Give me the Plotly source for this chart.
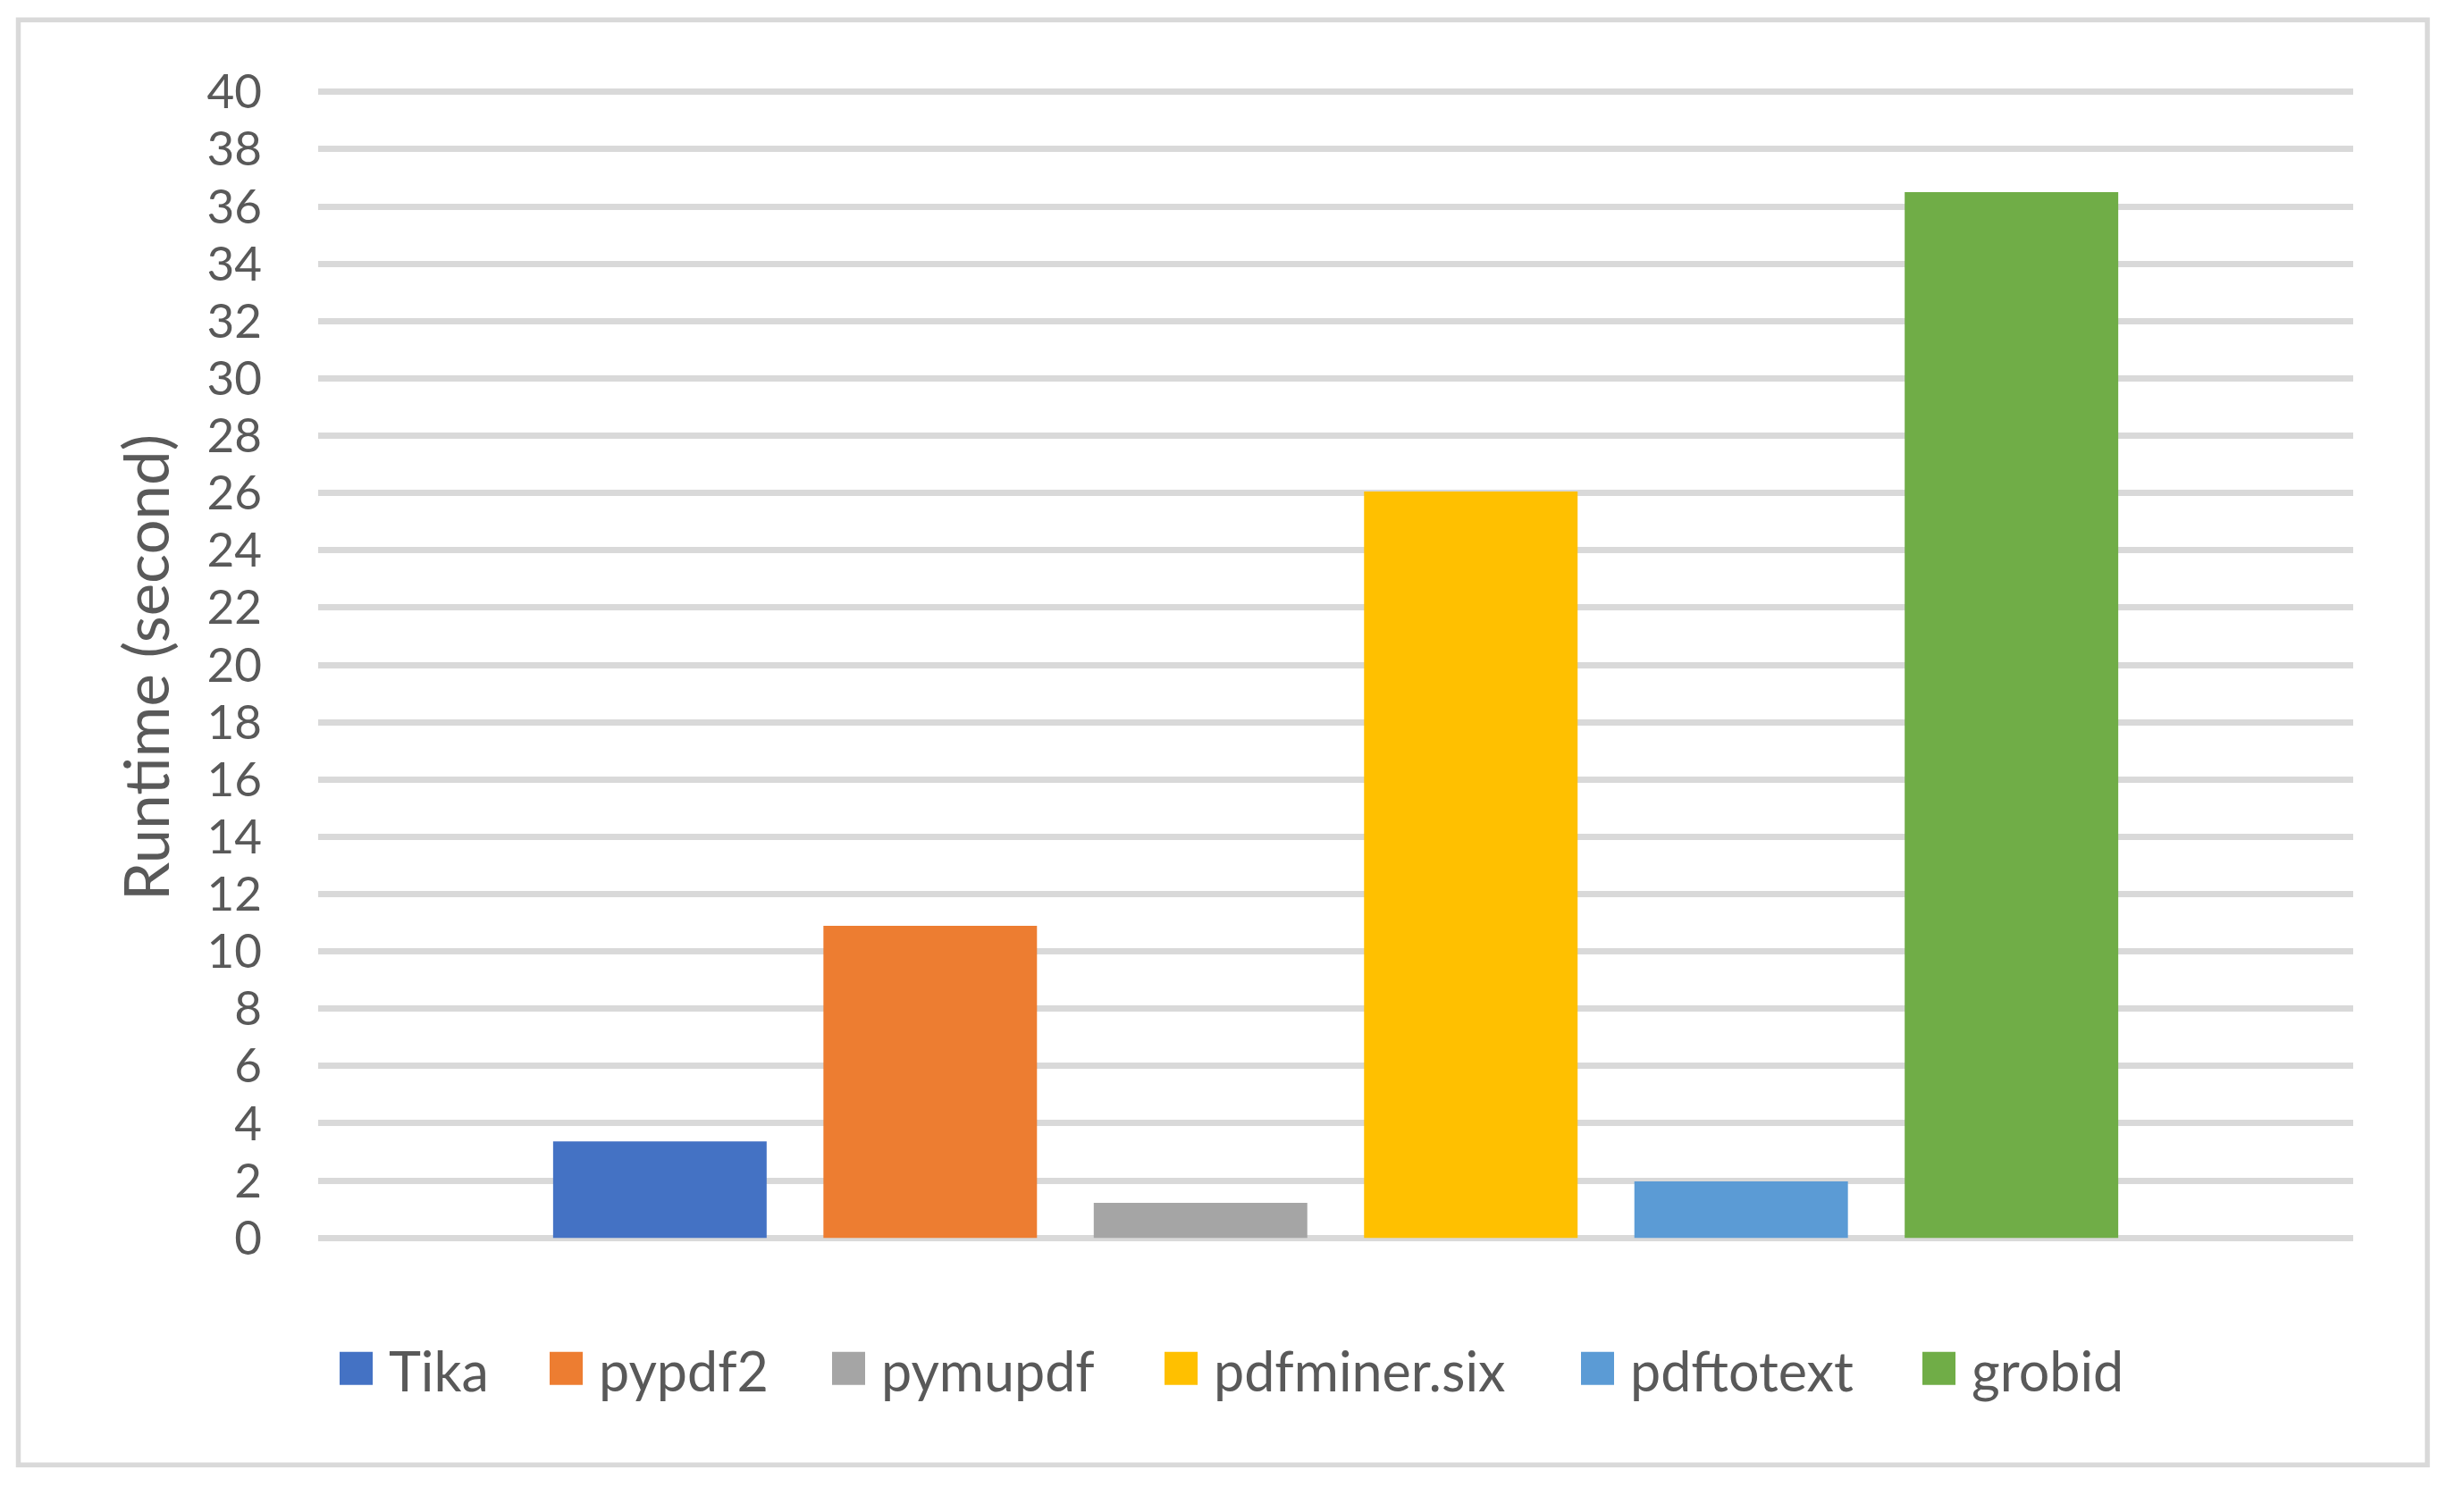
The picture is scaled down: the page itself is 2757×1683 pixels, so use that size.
import plotly.graph_objects as go

# ---- data ----
series = ["Tika", "pypdf2", "pymupdf", "pdfminer.six", "pdftotext", "grobid"]
runtimes = [3.37, 10.89, 1.22, 26.05, 1.97, 36.5]
colors = ["#4472C4", "#ED7D31", "#A5A5A5", "#FFC000", "#5B9BD5", "#70AD47"]
y_ticks = list(range(0, 41, 2))
y_title = "Runtime (second)"

# ---- layout geometry (pixels) ----
W, H = 2757, 1683
Y0_PX, Y40_PX = 1385, 103           # pixel rows of the 0 and 40 gridlines
PAD = 0.15                           # small range pad so edge gridlines are drawn
unit = (Y0_PX - Y40_PX) / 40.0
L, R = 356, 124
T = Y40_PX - PAD * unit
B = H - (Y0_PX + PAD * unit)
PW, PH = W - L - R, H - T - B
FONT = "Lato, Carlito, 'Liberation Sans Narrow', sans-serif"
TXT = "#595959"
GRID = "#D9D9D9"

def px(x):
    return (x - L) / PW

def py(y):
    return (H - B - y) / PH

fig = go.Figure()
for name, val, col in zip(series, runtimes, colors):
    fig.add_trace(go.Bar(x=["Runtime"], y=[val], name=name, marker_color=col,
                         marker_line_width=0, showlegend=False, hoverinfo="name+y"))

# custom legend (large square keys like the original)
legend_x = [380, 615, 931, 1303, 1769, 2151]
key = 37
ly = 1531
shapes = []
annos = []
for name, col, lx in zip(series, colors, legend_x):
    shapes.append(dict(type="rect", xref="paper", yref="paper",
                       x0=px(lx), x1=px(lx + key), y0=py(ly - key / 2), y1=py(ly + key / 2),
                       fillcolor=col, line_width=0))
    annos.append(dict(xref="paper", yref="paper", x=px(lx + key + 16), y=py(ly + 2),
                      text=name, showarrow=False, xanchor="left", yanchor="middle",
                      font=dict(family=FONT, size=61, color=TXT)))

# chart border
shapes.append(dict(type="rect", xref="paper", yref="paper",
                   x0=px(20.5), x1=px(2716), y0=py(1639), y1=py(22.5),
                   line=dict(color=GRID, width=5.5), fillcolor="rgba(0,0,0,0)", layer="below"))

# y axis title
annos.append(dict(xref="paper", yref="paper", x=px(162), y=py(747), text=y_title,
                  textangle=-90, showarrow=False, xanchor="center", yanchor="middle",
                  font=dict(family=FONT, size=69, color=TXT)))

fig.update_layout(
    width=W, height=H,
    margin=dict(l=L, r=R, t=T, b=B, autoexpand=False),
    paper_bgcolor="white", plot_bgcolor="white",
    barmode="group", bargap=0.203, bargroupgap=0.21,
    shapes=shapes, annotations=annos,
    showlegend=False,
    font=dict(family=FONT, color=TXT),
)
fig.update_xaxes(showticklabels=False, showgrid=False, zeroline=False, showline=False,
                 ticks="", range=[-0.5, 0.5])
fig.update_yaxes(range=[-PAD, 40 + PAD], tickvals=y_ticks, ticktext=[str(v) for v in y_ticks],
                 showgrid=True, gridcolor=GRID, gridwidth=6.5,
                 zeroline=True, zerolinecolor=GRID, zerolinewidth=6.5,
                 showline=False, ticks="", ticklabelstandoff=62,
                 tickfont=dict(family=FONT, size=53, color=TXT))

fig.write_html("out.html", config={"displayModeBar": False},
               post_script="document.body.style.margin='0';document.body.style.overflow='hidden';")
